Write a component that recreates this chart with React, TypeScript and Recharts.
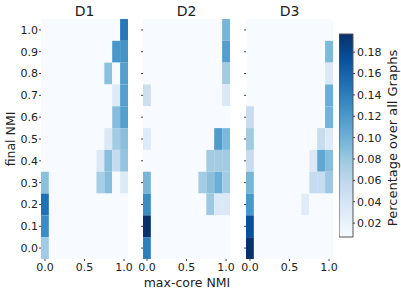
import { ScatterChart, ComposedChart, Scatter, XAxis, YAxis, ReferenceArea } from 'recharts'

const FONT = '"DejaVu Sans", sans-serif'

// bin centres
const xValues = [0, 0.1, 0.2, 0.3, 0.4, 0.5, 0.6, 0.7, 0.8, 0.9, 1.0]
const yValues = [1.0, 0.9, 0.8, 0.7, 0.6, 0.5, 0.4, 0.3, 0.2, 0.1, 0]
const xTicks = [0, 0.5, 1]
const yTicks = [0, 0.1, 0.2, 0.3, 0.4, 0.5, 0.6, 0.7, 0.8, 0.9, 1]
const cbTicks = [0.02, 0.04, 0.06, 0.08, 0.1, 0.12, 0.14, 0.16, 0.18]
const titles = ['D1', 'D2', 'D3']

// rows follow yValues (top row = 1.0), columns follow xValues
const d1 = [
  [0, 0, 0, 0, 0, 0, 0, 0, 0, 0, 0.144],
  [0, 0, 0, 0, 0, 0, 0, 0, 0, 0.121, 0.125],
  [0, 0, 0, 0, 0, 0, 0, 0, 0.087, 0, 0.115],
  [0, 0, 0, 0, 0, 0, 0, 0, 0, 0.032, 0.115],
  [0, 0, 0, 0, 0, 0, 0, 0, 0, 0.089, 0.115],
  [0, 0, 0, 0, 0, 0, 0, 0, 0.034, 0.075, 0.087],
  [0, 0, 0, 0, 0, 0, 0, 0.034, 0.087, 0.055, 0.083],
  [0.087, 0, 0, 0, 0, 0, 0, 0.073, 0.089, 0, 0.032],
  [0.15, 0, 0, 0, 0, 0, 0, 0, 0, 0, 0],
  [0.13, 0, 0, 0, 0, 0, 0, 0, 0, 0, 0],
  [0.077, 0, 0, 0, 0, 0, 0, 0, 0, 0, 0],
]
const d2 = [
  [0, 0, 0, 0, 0, 0, 0, 0, 0, 0, 0.096],
  [0, 0, 0, 0, 0, 0, 0, 0, 0, 0, 0.115],
  [0, 0, 0, 0, 0, 0, 0, 0, 0, 0, 0.075],
  [0.049, 0, 0, 0, 0, 0, 0, 0, 0, 0, 0.034],
  [0, 0, 0, 0, 0, 0, 0, 0, 0, 0, 0],
  [0.032, 0, 0, 0, 0, 0, 0, 0, 0, 0.117, 0.093],
  [0, 0, 0, 0, 0, 0, 0, 0, 0.075, 0.075, 0.075],
  [0.096, 0, 0, 0, 0, 0, 0, 0.075, 0.087, 0.102, 0.075],
  [0.13, 0, 0, 0, 0, 0, 0, 0, 0.079, 0.034, 0.034],
  [0.197, 0, 0, 0, 0, 0, 0, 0, 0, 0, 0],
  [0.14, 0, 0, 0, 0, 0, 0, 0, 0, 0, 0],
]
const d3 = [
  [0, 0, 0, 0, 0, 0, 0, 0, 0, 0, 0],
  [0, 0, 0, 0, 0, 0, 0, 0, 0, 0, 0.093],
  [0, 0, 0, 0, 0, 0, 0, 0, 0, 0, 0.034],
  [0, 0, 0, 0, 0, 0, 0, 0, 0, 0, 0.102],
  [0.053, 0, 0, 0, 0, 0, 0, 0, 0, 0, 0.098],
  [0.077, 0, 0, 0, 0, 0, 0, 0, 0, 0.053, 0.032],
  [0.053, 0, 0, 0, 0, 0, 0, 0, 0.034, 0.108, 0.089],
  [0.096, 0, 0, 0, 0, 0, 0, 0, 0.055, 0.055, 0.079],
  [0.121, 0, 0, 0, 0, 0, 0, 0.03, 0, 0, 0],
  [0.174, 0, 0, 0, 0, 0, 0, 0, 0, 0, 0],
  [0.197, 0, 0, 0, 0, 0, 0, 0, 0, 0, 0],
]

const VMIN = 0.007
const VMAX = 0.197
const BLUES = ['#f7fbff', '#deebf7', '#c6dbef', '#9ecae1', '#6baed6', '#4292c6', '#2171b5', '#08519c', '#08306b']

function hex(c: string) {
  return [1, 3, 5].map((i) => parseInt(c.slice(i, i + 2), 16))
}

function blues(v: number) {
  const t = Math.min(1, Math.max(0, (v - VMIN) / (VMAX - VMIN))) * (BLUES.length - 1)
  const i = Math.min(BLUES.length - 2, Math.floor(t))
  const f = t - i
  const a = hex(BLUES[i])
  const b = hex(BLUES[i + 1])
  const rgb = a.map((av, k) => Math.round(av + (b[k] - av) * f))
  return `rgb(${rgb.join(',')})`
}

const PANEL_LEFT = [41, 143, 246]
const PANEL_W = 87
const Y_AXIS_W = 42
const RIGHT_PAD = 12
const H = 293
const TOP = 19
const PLOT_H = 240

const tickStyle = { fontSize: 11, fill: '#222', fontFamily: FONT }

function Panel({ grid, index }: { grid: number[][]; index: number }) {
  const cells = grid.flatMap((row, r) => row.map((v, c) => ({ x: xValues[c], y: yValues[r], v })))
  const showY = index === 0
  return (
    <div style={{ position: 'absolute', left: PANEL_LEFT[index] - Y_AXIS_W, top: 0 }}>
      <ScatterChart
        width={Y_AXIS_W + PANEL_W + RIGHT_PAD}
        height={H}
        margin={{ top: TOP, right: RIGHT_PAD, bottom: 0, left: 0 }}
        style={{ overflow: 'visible' }}
      >
        <XAxis
          type="number"
          dataKey="x"
          domain={[-0.05, 1.05]}
          ticks={xTicks}
          tickFormatter={(v) => Number(v).toFixed(1)}
          tick={tickStyle}
          tickSize={2}
          tickMargin={2}
          axisLine={false}
          stroke="#444"
          height={H - TOP - PLOT_H}
          allowDataOverflow
        />
        <XAxis
          xAxisId="top"
          orientation="top"
          type="number"
          dataKey="x"
          domain={[-0.05, 1.05]}
          ticks={xTicks}
          tickFormatter={() => ''}
          mirror
          tickSize={3}
          axisLine={false}
          stroke="#444"
          height={0}
        />
        <YAxis
          type="number"
          dataKey="y"
          domain={[-0.05, 1.05]}
          ticks={yTicks}
          tickFormatter={(v) => (showY ? Number(v).toFixed(1) : '')}
          tick={tickStyle}
          tickSize={2}
          tickMargin={1}
          axisLine={false}
          stroke="#444"
          width={Y_AXIS_W}
          allowDataOverflow
        />
        <YAxis
          yAxisId="right"
          orientation="right"
          type="number"
          dataKey="y"
          domain={[-0.05, 1.05]}
          ticks={yTicks}
          tickFormatter={() => ''}
          mirror
          tickSize={3}
          axisLine={false}
          stroke="#444"
          width={0}
        />
        {cells.map((d, i) => (
          <ReferenceArea
            key={i}
            x1={d.x - 0.05}
            x2={d.x + 0.05}
            y1={d.y - 0.05}
            y2={d.y + 0.05}
            fill={blues(d.v)}
            fillOpacity={1}
            stroke="none"
            ifOverflow="visible"
          />
        ))}
        <Scatter data={cells} shape={() => <g />} isAnimationActive={false} />
      </ScatterChart>
    </div>
  )
}

function ColorBar() {
  const CB_TOP = 34
  const CB_BOTTOM = 237
  return (
    <div style={{ position: 'absolute', left: 339, top: 0 }}>
      <ComposedChart
        width={60}
        height={H}
        margin={{ top: CB_TOP, right: 0, bottom: H - CB_BOTTOM, left: 0 }}
        data={[{ x: 0, y: VMIN }, { x: 1, y: VMAX }]}
      >
        <defs>
          <linearGradient id="cbGrad" x1="0" y1="1" x2="0" y2="0">
            {BLUES.map((c, i) => (
              <stop key={c} offset={i / (BLUES.length - 1)} stopColor={c} />
            ))}
          </linearGradient>
        </defs>
        <XAxis type="number" dataKey="x" domain={[0, 1]} hide />
        <YAxis
          orientation="right"
          type="number"
          dataKey="y"
          domain={[VMIN, VMAX]}
          ticks={cbTicks}
          tickFormatter={(v) => Number(v).toFixed(2)}
          tick={tickStyle}
          tickSize={2}
          tickMargin={2}
          axisLine={false}
          stroke="#444"
          width={46}
        />
        <ReferenceArea
          x1={0}
          x2={1}
          y1={VMIN}
          y2={VMAX}
          fill="url(#cbGrad)"
          fillOpacity={1}
          stroke="#555"
          strokeWidth={1}
        />
        <Scatter dataKey="y" shape={() => <g />} isAnimationActive={false} />
      </ComposedChart>
    </div>
  )
}

export default function App() {
  const grids = [d1, d2, d3]
  return (
    <div style={{ position: 'absolute', left: 0, top: 0, width: 401, height: H, background: '#fff', fontFamily: FONT }}>
      {grids.map((g, i) => (
        <Panel key={i} grid={g} index={i} />
      ))}
      <ColorBar />
      <svg width={401} height={H} style={{ position: 'absolute', left: 0, top: 0, pointerEvents: 'none' }}>
        {titles.map((t, i) => (
          <text
            key={t}
            x={PANEL_LEFT[i] + PANEL_W / 2}
            y={16}
            textAnchor="middle"
            fontSize={14}
            fontFamily={FONT}
            fill="#222"
          >
            {t}
          </text>
        ))}
        <text x={187} y={287} textAnchor="middle" fontSize={12.5} fontFamily={FONT} fill="#222">
          max-core NMI
        </text>
        <text
          x={10}
          y={139}
          textAnchor="middle"
          dominantBaseline="central"
          fontSize={12.5}
          fontFamily={FONT}
          fill="#222"
          transform="rotate(-90 10 139)"
        >
          final NMI
        </text>
        <text
          x={392}
          y={138}
          textAnchor="middle"
          dominantBaseline="central"
          fontSize={13}
          fontFamily={FONT}
          fill="#222"
          transform="rotate(-90 392 138)"
        >
          Percentage over all Graphs
        </text>
      </svg>
    </div>
  )
}
